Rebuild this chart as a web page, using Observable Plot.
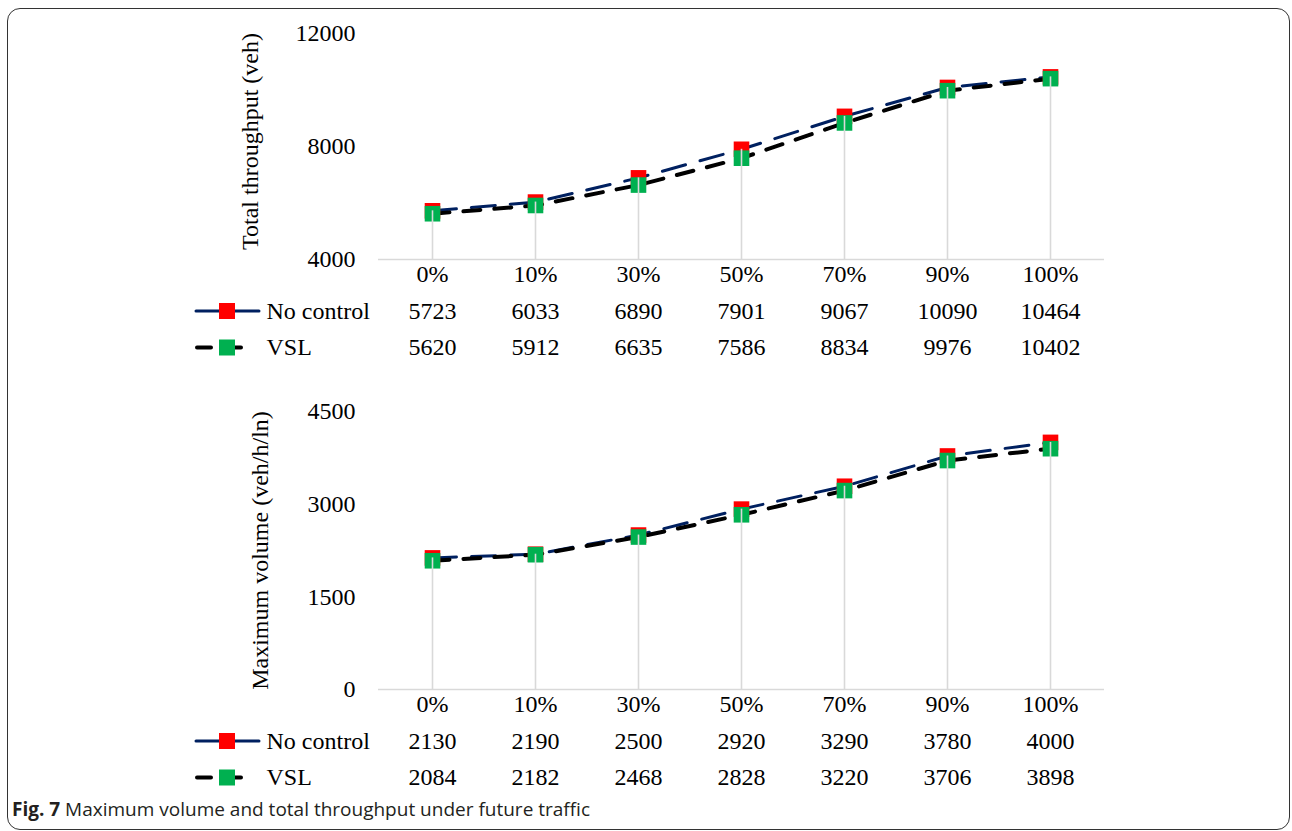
<!DOCTYPE html>
<html><head><meta charset="utf-8">
<script src="https://cdn.jsdelivr.net/npm/d3@7"></script>
<script src="https://cdn.jsdelivr.net/npm/@observablehq/plot@0.6"></script>
<style>
body{margin:0;background:#fff;width:1292px;height:831px;position:relative;overflow:hidden;font-family:"Liberation Serif";}
#frame{position:absolute;left:7px;top:8px;width:1283px;height:822px;border:1.4px solid #333;border-radius:13px;box-sizing:border-box;}
.chart{position:absolute;left:0;}
.chart svg text{font-family:"Liberation Serif";}
#keys{position:absolute;left:0;top:0;}
#caption{position:absolute;left:12px;top:796px;font-family:"Open Sans";font-size:19px;color:#231f20;white-space:nowrap;}
</style></head><body>
<div id="frame"></div>
<div id="c1" class="chart" style="top:0px"></div>
<div id="c2" class="chart" style="top:380px"></div>
<svg id="keys" width="1292" height="831"></svg>
<div id="caption"><b>Fig. 7</b> Maximum volume and total throughput under future traffic</div>
<script>
const categories = ["0%", "10%", "30%", "50%", "70%", "90%", "100%"];
const seriesNames = ["No control", "VSL"];
const throughputNoControl = [5723, 6033, 6890, 7901, 9067, 10090, 10464];
const throughputVSL = [5620, 5912, 6635, 7586, 8834, 9976, 10402];
const volumeNoControl = [2130, 2190, 2500, 2920, 3290, 3780, 4000];
const volumeVSL = [2084, 2182, 2468, 2828, 3220, 3706, 3898];
const throughputTicks = [4000, 8000, 12000];
const volumeTicks = [0, 1500, 3000, 4500];

const NAVY = "#002060", RED = "#ff0000", GREEN = "#00b050", GRID = "#d9d9d9";
const FONT = {fontFamily: "Liberation Serif"};

function chart(noCtl, vsl, yDomain, yTicks, yLabel, labelDx, labelDy, marginTop, plotBottom, totalH) {
  const rows = categories.map((c, i) => ({cat: c, a: noCtl[i], b: vsl[i]}));
  return Plot.plot({
    width: 1292, height: totalH,
    marginLeft: 378, marginRight: 188, marginTop, marginBottom: totalH - plotBottom,
    style: {fontFamily: "Liberation Serif", fontSize: "24px", color: "#000", background: "transparent", overflow: "visible"},
    x: {type: "point", domain: categories, padding: 0.5},
    y: {domain: yDomain},
    marks: [
      Plot.axisY({ticks: yTicks, tickSize: 0, tickPadding: 23, label: null, tickFormat: d => String(d), ...FONT}),
      Plot.text([yLabel], {frameAnchor: "left", rotate: -90, lineAnchor: "top", textAnchor: "middle", dx: labelDx, dy: labelDy, ...FONT}),
      Plot.axisX({tickSize: 0, tickPadding: 5, label: null, ...FONT}),
      Plot.ruleY([yDomain[0]], {stroke: GRID, strokeWidth: 1.6}),
      Plot.line(rows, {x: "cat", y: "a", stroke: NAVY, strokeWidth: 3, strokeDasharray: "24,15", strokeLinecap: "round"}),
      Plot.line(rows, {x: "cat", y: "b", stroke: "#000", strokeWidth: 4, strokeDasharray: "17,14", strokeLinecap: "round"}),
      Plot.dot(rows, {x: "cat", y: "a", symbol: "square", r: 8.8, fill: RED}),
      Plot.dot(rows, {x: "cat", y: "b", symbol: "square", r: 8.8, fill: GREEN}),
      Plot.ruleX(rows, {x: "cat", y1: yDomain[0], y2: "a", stroke: GRID, strokeWidth: 1.6}),
      Plot.text(rows, {x: "cat", text: d => String(d.a), frameAnchor: "bottom", dy: 59, ...FONT}),
      Plot.text(rows, {x: "cat", text: d => String(d.b), frameAnchor: "bottom", dy: 95.5, ...FONT}),
      Plot.text([seriesNames[0]], {frameAnchor: "bottom-left", dx: -112, dy: 59, textAnchor: "start", ...FONT}),
      Plot.text([seriesNames[1]], {frameAnchor: "bottom-left", dx: -112, dy: 95.5, textAnchor: "start", ...FONT})
    ]
  });
}

document.getElementById("c1").append(
  chart(throughputNoControl, throughputVSL, [4000, 12000], throughputTicks, "Total throughput (veh)", -138, -5, 33, 259, 372));
document.getElementById("c2").append(
  chart(volumeNoControl, volumeVSL, [0, 4500], volumeTicks, "Maximum volume (veh/h/ln)", -128, 0, 31, 309, 412));

// legend keys in the data table
const keys = d3.select("#keys");
for (const y0 of [311, 741]) {
  keys.append("line").attr("x1", 196).attr("x2", 259).attr("y1", y0).attr("y2", y0)
    .attr("stroke", NAVY).attr("stroke-width", 3).attr("stroke-linecap", "round");
  keys.append("rect").attr("x", 219).attr("y", y0 - 8).attr("width", 16).attr("height", 16).attr("fill", RED);
  const y1 = y0 + 36.5;
  keys.append("line").attr("x1", 197).attr("x2", 211).attr("y1", y1).attr("y2", y1)
    .attr("stroke", "#000").attr("stroke-width", 4).attr("stroke-linecap", "round");
  keys.append("line").attr("x1", 232).attr("x2", 241).attr("y1", y1).attr("y2", y1)
    .attr("stroke", "#000").attr("stroke-width", 4).attr("stroke-linecap", "round");
  keys.append("rect").attr("x", 219).attr("y", y1 - 8).attr("width", 16).attr("height", 16).attr("fill", GREEN);
}
</script>
</body></html>
